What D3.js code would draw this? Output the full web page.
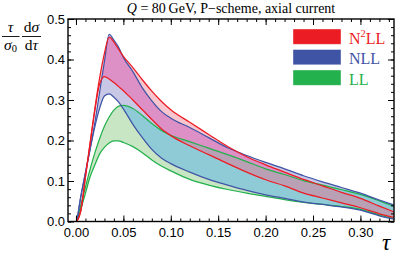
<!DOCTYPE html>
<html><head><meta charset="utf-8">
<script src="https://cdn.jsdelivr.net/npm/d3@7"></script>
<style>body{margin:0;background:#fff}svg{display:block}</style>
</head><body><svg id="c" width="399" height="253"></svg>
<script>
// ---- data ----
const tau    = [0.001,0.005,0.01,0.015,0.02,0.025,0.03,0.035,0.04,0.045,0.05,0.06,0.07,0.08,0.09,0.10,0.12,0.14,0.16,0.18,0.20,0.22,0.24,0.26,0.28,0.30,0.32,0.335];
const n2llHi = [0,0.025,0.11,0.195,0.28,0.355,0.415,0.455,0.443,0.425,0.408,0.38,0.35,0.322,0.297,0.276,0.245,0.215,0.185,0.160,0.140,0.122,0.104,0.088,0.072,0.057,0.038,0.024];
const n2llLo = [0,0.025,0.11,0.195,0.275,0.340,0.358,0.352,0.343,0.333,0.323,0.30,0.276,0.252,0.229,0.212,0.187,0.165,0.143,0.122,0.103,0.088,0.070,0.058,0.046,0.034,0.019,0.010];
const nllHi  = [0,0.06,0.12,0.18,0.245,0.32,0.395,0.462,0.448,0.43,0.405,0.37,0.33,0.298,0.272,0.255,0.232,0.207,0.182,0.163,0.146,0.13,0.113,0.098,0.084,0.07,0.053,0.041];
const nllLo  = [0,0.06,0.12,0.18,0.235,0.28,0.31,0.315,0.307,0.295,0.278,0.24,0.207,0.178,0.157,0.143,0.122,0.104,0.090,0.077,0.066,0.057,0.048,0.042,0.036,0.028,0.014,0.006];
const llHi   = [0,0.04,0.085,0.13,0.17,0.205,0.235,0.258,0.275,0.285,0.287,0.279,0.262,0.242,0.225,0.213,0.197,0.181,0.165,0.148,0.130,0.116,0.101,0.09,0.079,0.067,0.051,0.038];
const llLo   = [0,0.03,0.07,0.111,0.14,0.167,0.183,0.194,0.199,0.199,0.195,0.185,0.17,0.152,0.137,0.125,0.104,0.09,0.079,0.07,0.062,0.054,0.047,0.042,0.037,0.03,0.016,0.008];
const xTicks = [0,0.05,0.10,0.15,0.20,0.25,0.30];
const yTicks = [0,0.1,0.2,0.3,0.4,0.5];
const legendLabels = ["N2LL","NLL","LL"];

// ---- setup ----
const svg = d3.select('#c');
const L=68, R=394, T=19, B=221.5;
const x = d3.scaleLinear().domain([-0.0084,0.3354]).range([L,R]);
const y = d3.scaleLinear().domain([0,0.5]).range([B,T]);
const serif = "'Liberation Serif','Times New Roman',serif";
const sans = "'Liberation Sans',Arial,sans-serif";

const colors = {
  red:'#ec1c24', blue:'#4054a6', green:'#22b14c',
  fG:'#c8e6c4', fB:'#c8c8e6', fR:'#f6c5cd',
  fBG:'#8ecbd6', fRB:'#dc90c5', fRBG:'#b9a0b4'
};

const defs = svg.append('defs');
defs.append('clipPath').attr('id','plotclip').append('rect')
  .attr('x',L).attr('y',T).attr('width',R-L).attr('height',B-T);

const areaGen = (lo,hi) => d3.area()
  .x((d,i)=>x(tau[i])).y0((d,i)=>y(lo[i])).y1((d,i)=>y(hi[i]))
  .curve(d3.curveMonotoneX)(tau);
const lineGen = (v) => d3.line()
  .x((d,i)=>x(tau[i])).y((d,i)=>y(v[i]))
  .curve(d3.curveMonotoneX)(tau);

const aG = areaGen(llLo,llHi), aB = areaGen(nllLo,nllHi), aR = areaGen(n2llLo,n2llHi);
defs.append('clipPath').attr('id','cG').append('path').attr('d',aG);
defs.append('clipPath').attr('id','cB').append('path').attr('d',aB);

const plot = svg.append('g').attr('clip-path','url(#plotclip)');
plot.append('path').attr('d',aG).attr('fill',colors.fG);
plot.append('path').attr('d',aB).attr('fill',colors.fB);
plot.append('path').attr('d',aR).attr('fill',colors.fR);
plot.append('path').attr('d',aB).attr('fill',colors.fBG).attr('clip-path','url(#cG)');
plot.append('path').attr('d',aR).attr('fill',colors.fRB).attr('clip-path','url(#cB)');
plot.append('path').attr('d',aR).attr('fill',colors.fRBG).attr('clip-path','url(#cG)');

const lines = [[llLo,colors.green],[llHi,colors.green],[nllLo,colors.blue],[nllHi,colors.blue],[n2llLo,colors.red],[n2llHi,colors.red]];
lines.forEach(([v,c])=>{
  plot.append('path').attr('d',lineGen(v)).attr('fill','none')
    .attr('stroke',c).attr('stroke-width',1.25).attr('stroke-linejoin','round');
});

// ---- axes (frame with inward ticks) ----
const minorX = d3.range(0,0.3355,0.01);
const minorY = d3.range(0,0.501,0.02);
function styleAxis(g){ g.select('.domain').remove(); g.selectAll('line').attr('stroke','#000').attr('stroke-width',1); }

svg.append('g').attr('transform',`translate(0,${B})`)
  .call(d3.axisBottom(x).tickValues(minorX).tickSize(-3).tickFormat(''))
  .call(styleAxis);
const bx = svg.append('g').attr('transform',`translate(0,${B})`)
  .call(d3.axisBottom(x).tickValues(xTicks).tickSize(-6).tickPadding(6).tickFormat(d3.format('.2f')))
  .call(styleAxis);
bx.selectAll('text').attr('font-family',sans).attr('font-size',13).attr('fill','#000');

svg.append('g').attr('transform',`translate(0,${T})`)
  .call(d3.axisTop(x).tickValues(minorX).tickSize(-3).tickFormat('')).call(styleAxis);
svg.append('g').attr('transform',`translate(0,${T})`)
  .call(d3.axisTop(x).tickValues(xTicks).tickSize(-6).tickFormat('')).call(styleAxis);

svg.append('g').attr('transform',`translate(${L},0)`)
  .call(d3.axisLeft(y).tickValues(minorY).tickSize(-3).tickFormat('')).call(styleAxis);
const ly = svg.append('g').attr('transform',`translate(${L},0)`)
  .call(d3.axisLeft(y).tickValues(yTicks).tickSize(-6).tickPadding(3).tickFormat(d3.format('.1f')))
  .call(styleAxis);
ly.selectAll('text').attr('font-family',sans).attr('font-size',13).attr('fill','#000');

svg.append('g').attr('transform',`translate(${R},0)`)
  .call(d3.axisRight(y).tickValues(minorY).tickSize(-3).tickFormat('')).call(styleAxis);
svg.append('g').attr('transform',`translate(${R},0)`)
  .call(d3.axisRight(y).tickValues(yTicks).tickSize(-6).tickFormat('')).call(styleAxis);

svg.append('rect').attr('x',L).attr('y',T).attr('width',R-L).attr('height',B-T)
  .attr('fill','none').attr('stroke','#000').attr('stroke-width',1.4);

// ---- title ----
const title = svg.append('text').attr('x',(L+R)/2).attr('y',12.5).attr('text-anchor','middle')
  .attr('font-family',serif).attr('font-size',14).attr('fill','#000');
title.append('tspan').attr('font-style','italic').text('Q');
title.append('tspan').text(' = 80\u2009GeV, P\u2212scheme, axial current');

// ---- y label ----
const yl = svg.append('g').attr('font-family',serif).attr('font-size',15.5).attr('fill','#000');
yl.append('text').attr('x',10.5).attr('y',31.5).attr('text-anchor','middle').attr('font-style','italic').text('τ');
yl.append('line').attr('x1',2).attr('x2',19.5).attr('y1',36.5).attr('y2',36.5).attr('stroke','#000').attr('stroke-width',0.9);
const s0 = yl.append('text').attr('x',10.5).attr('y',49.5).attr('text-anchor','middle');
s0.append('tspan').attr('font-style','italic').text('σ');
s0.append('tspan').attr('font-size',10.5).attr('dy',2.5).text('0');
const ds = yl.append('text').attr('x',31.5).attr('y',31.5).attr('text-anchor','middle');
ds.append('tspan').text('d');
ds.append('tspan').attr('font-style','italic').text('σ');
yl.append('line').attr('x1',22).attr('x2',41).attr('y1',36.5).attr('y2',36.5).attr('stroke','#000').attr('stroke-width',0.9);
const dt = yl.append('text').attr('x',31.5).attr('y',49.5).attr('text-anchor','middle');
dt.append('tspan').text('d');
dt.append('tspan').attr('font-style','italic').text('τ');

// ---- x label ----
svg.append('text').attr('x',382).attr('y',249.5).attr('font-family',serif).attr('font-style','italic')
  .attr('font-size',23).attr('fill','#000').text('τ');

// ---- legend ----
const legColors = [colors.red, colors.blue, colors.green];
const lg = svg.append('g');
legendLabels.forEach((lab,i)=>{
  const yy = 29 + i*20.5;
  lg.append('rect').attr('x',293).attr('y',yy).attr('width',48).attr('height',15.3)
    .attr('fill',legColors[i]).attr('stroke','#fff').attr('stroke-opacity',0.5).attr('stroke-width',0.8);
  const t = lg.append('text').attr('x',349).attr('y',yy+14.5).attr('font-family',serif)
    .attr('font-size',16).attr('fill',legColors[i]);
  if(lab==='N2LL'){
    t.append('tspan').text('N');
    t.append('tspan').attr('font-size',10.5).attr('dy',-6.5).text('2');
    t.append('tspan').attr('dy',6.5).text('LL');
  } else t.text(lab);
});
</script></body></html>
